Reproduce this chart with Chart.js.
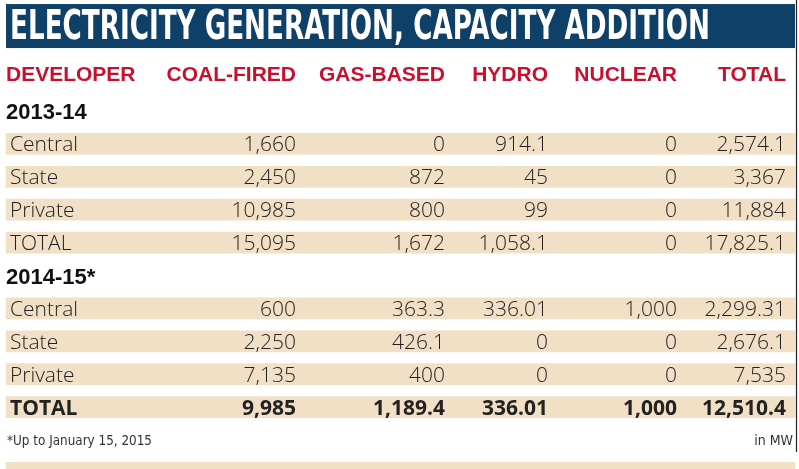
<!DOCTYPE html>
<html>
<head>
<meta charset="utf-8">
<script src="https://cdn.jsdelivr.net/npm/chart.js@4.4.1/dist/chart.umd.min.js"></script>
<style>
  html, body { margin: 0; padding: 0; background: #fff; }
  #wrap { width: 799px; height: 469px; position: relative; }
</style>
</head>
<body>
<div id="wrap"><canvas id="power-table"></canvas></div>
<script>
// table content
var title = 'ELECTRICITY GENERATION, CAPACITY ADDITION';
var columns = ['DEVELOPER', 'COAL-FIRED', 'GAS-BASED', 'HYDRO', 'NUCLEAR', 'TOTAL'];
var periods = ['2013-14', '2014-15*'];
var developers = ['Central', 'State', 'Private', 'TOTAL'];

var coal1314 = [1660, 2450, 10985, 15095];
var gas1314 = [0, 872, 800, 1672];
var hydro1314 = [914.1, 45, 99, 1058.1];
var nuclear1314 = [0, 0, 0, 0];
var total1314 = [2574.1, 3367, 11884, 17825.1];

var coal1415 = [600, 2250, 7135, 9985];
var gas1415 = [363.3, 426.1, 400, 1189.4];
var hydro1415 = [336.01, 0, 0, 336.01];
var nuclear1415 = [1000, 0, 0, 1000];
var total1415 = [2299.31, 2676.1, 7535, 12510.4];

var footnote = '*Up to January 15, 2015';
var unitNote = 'in MW';

(function () {
    'use strict';

    var NAVY = '#0e4068';
    var BEIGE = '#f2e0c6';
    var RED = '#c8102e';
    var TEXT = '#222222';

    // right edge of each numeric column, in x-scale units
    var colRight = [0, 290, 439, 542, 671, 780];

    var series = [
        [coal1314, gas1314, hydro1314, nuclear1314, total1314],
        [coal1415, gas1415, hydro1415, nuclear1415, total1415]
    ];

    // build row list: period heading, 4 developer rows, ... then footnote, strip
    var rows = [];
    periods.forEach(function (p, pi) {
        rows.push({ kind: 'period', label: p });
        developers.forEach(function (d, di) {
            rows.push({
                kind: 'data',
                label: d,
                values: series[pi].map(function (s) { return s[di]; }),
                bold: pi === 1 && di === developers.length - 1
            });
        });
    });
    rows.push({ kind: 'note' });
    rows.push({ kind: 'strip' });

    var bands = [];
    rows.forEach(function (r, i) {
        if (r.kind === 'data' || r.kind === 'strip') bands.push({ x: [0, 789], y: i });
    });

    function fmt(v) {
        return v.toLocaleString('en-US', { maximumFractionDigits: 2 });
    }

    function fitText(ctx, text, x, y, width) {
        var w = ctx.measureText(text).width;
        ctx.save();
        ctx.translate(x, y);
        ctx.scale(width / w, 1);
        ctx.fillText(text, 0, 0);
        ctx.restore();
    }

    var tablePlugin = {
        id: 'tableText',
        afterDatasetsDraw: function (chart) {
            var ctx = chart.ctx;
            var xs = chart.scales.x;
            var ys = chart.scales.y;
            var area = chart.chartArea;
            var left = xs.getPixelForValue(0);

            ctx.save();

            // title band
            ctx.fillStyle = NAVY;
            ctx.fillRect(area.left, area.top - 90.5, area.right - area.left, 44);
            ctx.fillStyle = '#ffffff';
            ctx.font = 'bold 40px "Liberation Sans Narrow", "DejaVu Sans Condensed", sans-serif';
            ctx.textAlign = 'left';
            ctx.textBaseline = 'alphabetic';
            fitText(ctx, title, left + 4, area.top - 55.5, 700);

            // right rule
            ctx.strokeStyle = '#222';
            ctx.lineWidth = 1.2;
            ctx.beginPath();
            ctx.moveTo(area.right + 1.5, 0);
            ctx.lineTo(area.right + 1.5, 452);
            ctx.stroke();

            // column headers
            ctx.fillStyle = RED;
            ctx.font = 'bold 21px "Liberation Sans", Arial, sans-serif';
            var hy = area.top - 13.5;
            columns.forEach(function (c, j) {
                ctx.textAlign = j === 0 ? 'left' : 'right';
                ctx.fillText(c, xs.getPixelForValue(colRight[j]), hy);
            });

            rows.forEach(function (r, i) {
                var y = ys.getPixelForValue(i);
                if (r.kind === 'period') {
                    ctx.fillStyle = '#111';
                    ctx.font = 'bold 22px "Liberation Sans", Arial, sans-serif';
                    ctx.textAlign = 'left';
                    ctx.fillText(r.label, left, y + 8);
                } else if (r.kind === 'data') {
                    ctx.fillStyle = TEXT;
                    ctx.font = (r.bold ? '700' : '300') + ' 21px "Open Sans", sans-serif';
                    ctx.textAlign = 'left';
                    ctx.fillText(r.label, left + 4, y + 7.5);
                    ctx.textAlign = 'right';
                    r.values.forEach(function (v, j) {
                        ctx.fillText(fmt(v), xs.getPixelForValue(colRight[j + 1]), y + 7.5);
                    });
                } else if (r.kind === 'note') {
                    ctx.fillStyle = '#333';
                    ctx.font = '14px "Liberation Sans Narrow", "DejaVu Sans Condensed", sans-serif';
                    ctx.textAlign = 'left';
                    fitText(ctx, footnote, left + 1, y + 5, 145);
                    ctx.textAlign = 'right';
                    ctx.fillText(unitNote, xs.getPixelForValue(787), y + 5);
                }
            });

            ctx.restore();
        }
    };

    new Chart(document.getElementById('power-table').getContext('2d'), {
        type: 'bar',
        data: {
            datasets: [{
                data: bands,
                backgroundColor: BEIGE,
                barThickness: 21,
                clip: false
            }]
        },
        options: {
            indexAxis: 'y',
            responsive: true,
            maintainAspectRatio: false,
            animation: false,
            layout: { padding: { top: 94.55, bottom: 12.55, left: 6, right: 4 } },
            scales: {
                x: { type: 'linear', min: 0, max: 789, display: false },
                y: { type: 'linear', reverse: true, min: -0.5, max: 10.5, offset: false, display: false }
            },
            plugins: {
                legend: { display: false },
                tooltip: { enabled: false },
                title: { display: false }
            }
        },
        plugins: [tablePlugin]
    });
})();
</script>
</body>
</html>
